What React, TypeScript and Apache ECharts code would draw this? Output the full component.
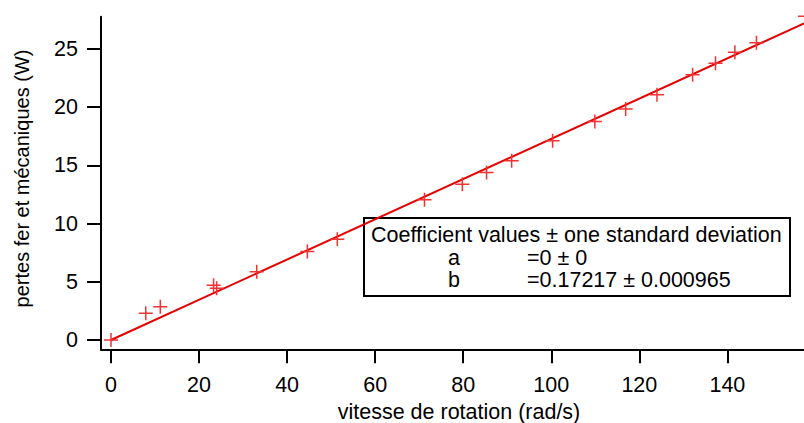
import React, { useEffect, useRef } from "react";
import * as echarts from "echarts";

const speed = [0, 7.9, 11.2, 23.3, 24.0, 33.1, 44.6, 51.4, 71.2, 79.8, 85.3, 91.0, 100.3, 109.9, 116.9, 124.0, 132.1, 137.3, 141.7, 146.6, 157.6];
const losses = [0, 2.29, 2.86, 4.7, 4.45, 5.87, 7.6, 8.66, 12.05, 13.37, 14.38, 15.4, 17.12, 18.76, 19.85, 21.07, 22.79, 23.77, 24.71, 25.54, 27.8];

// Fit line end points
const fitSpeed = [0, 157.4];
const fitLosses = [0, 27.2];

// Tick labels
const xTicks = [0, 20, 40, 60, 80, 100, 120, 140];
const yTicks = [0, 5, 10, 15, 20, 25];

// Fit coefficients box
const coefTitle = "Coefficient values ± one standard deviation";
const coefNames = ["a", "b"];
const coefValues = ["=0 ± 0", "=0.17217 ± 0.000965"];

const FONT = "'Liberation Sans', Arial, Helvetica, sans-serif";
const FS = 21.5;

const plusPath =
  "path://M6.25,0H7.75V6.25H14V7.75H7.75V14H6.25V7.75H0V6.25H6.25Z";

export default function App() {
  const ref = useRef<HTMLDivElement>(null);

  useEffect(() => {
    document.body.style.margin = "0";
    if (!ref.current) return;
    const chart = echarts.init(ref.current, null, { renderer: "svg" });

    const points = speed.map((v, i) => [v, losses[i]]);
    const fit = fitSpeed.map((v, i) => [v, fitLosses[i]]);

    const boxX = 364;
    const boxY = 218;
    const rowYs = [235, 258, 280];

    chart.setOption({
      animation: false,
      backgroundColor: "#ffffff",
      textStyle: { fontFamily: FONT, color: "#000" },
      grid: { left: 101, right: 0, top: 16.7, bottom: 73.7, containLabel: false, outerBoundsMode: "none" },
      xAxis: {
        type: "value",
        min: -2.27,
        max: 157.4,
        name: "vitesse de rotation (rad/s)",
        nameLocation: "middle",
        nameGap: 50,
        nameTextStyle: { fontFamily: FONT, fontSize: FS, color: "#000", padding: [0, 0, 0, 13] },
        axisLine: { show: true, onZero: false, lineStyle: { color: "#000", width: 2 } },
        axisTick: { show: true, inside: false, length: 14, customValues: xTicks, lineStyle: { color: "#000", width: 2 } },
        axisLabel: { customValues: xTicks, margin: 25, fontFamily: FONT, fontSize: FS, color: "#000" },
        splitLine: { show: false },
      },
      yAxis: {
        type: "value",
        min: -0.8,
        max: 27.77,
        name: "pertes fer et mécaniques (W)",
        nameLocation: "middle",
        nameRotate: 90,
        nameGap: 69,
        nameTextStyle: { fontFamily: FONT, fontSize: 20, color: "#000", padding: [0, 0, 0, 9] },
        axisLine: { show: true, onZero: false, lineStyle: { color: "#000", width: 2 } },
        axisTick: { show: true, inside: false, length: 14, customValues: yTicks, lineStyle: { color: "#000", width: 2 } },
        axisLabel: { customValues: yTicks, margin: 23, fontFamily: FONT, fontSize: FS, color: "#000" },
        splitLine: { show: false },
      },
      series: [
        {
          type: "line",
          data: fit,
          symbol: "none",
          lineStyle: { color: "#e60000", width: 2 },
          z: 2,
        },
        {
          type: "scatter",
          data: points,
          symbol: plusPath,
          symbolSize: 14,
          clip: false,
          itemStyle: { color: "#f03232", opacity: 1 },
          z: 3,
        },
      ],
      graphic: [
        {
          type: "group",
          z: 100,
          children: [
            {
              type: "rect",
              shape: { x: boxX, y: boxY, width: 426, height: 78 },
              style: { fill: "#ffffff", stroke: "#000", lineWidth: 2 },
            },
            {
              type: "text",
              x: 371,
              y: rowYs[0],
              style: { text: coefTitle, font: `${FS}px ${FONT}`, fill: "#000", textAlign: "left", textVerticalAlign: "middle" },
            },
            ...coefNames.map((n, i) => ({
              type: "text",
              x: 454,
              y: rowYs[i + 1],
              style: { text: n, font: `${FS}px ${FONT}`, fill: "#000", textAlign: "center", textVerticalAlign: "middle" },
            })),
            ...coefValues.map((v, i) => ({
              type: "text",
              x: 527,
              y: rowYs[i + 1],
              style: { text: v, font: `${FS}px ${FONT}`, fill: "#000", textAlign: "left", textVerticalAlign: "middle" },
            })),
          ],
        },
      ],
    });

    return () => chart.dispose();
  }, []);

  return <div ref={ref} style={{ width: 804, height: 423 }} />;
}
